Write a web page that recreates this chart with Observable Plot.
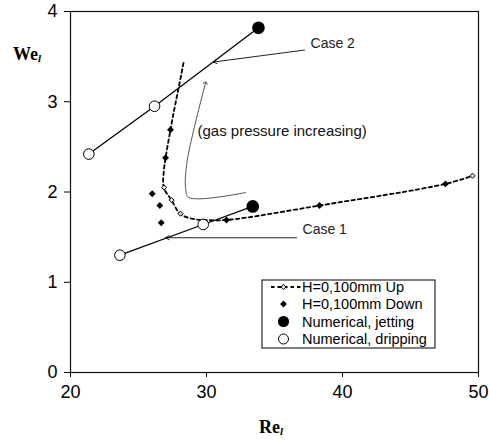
<!DOCTYPE html>
<html>
<head>
<meta charset="utf-8">
<script src="https://cdn.jsdelivr.net/npm/d3@7"></script>
<script src="https://cdn.jsdelivr.net/npm/@observablehq/plot@0.6"></script>
<style>
  html, body { margin: 0; padding: 0; background: #fff; }
  #chart { position: relative; width: 489px; height: 440px; }
</style>
</head>
<body>
<div id="chart"></div>
<script>
// ---- data ----
const reUp = [26.88, 27.43, 28.09, 49.56];
const weUp = [2.05, 1.91, 1.76, 2.18];

const reDown = [27.35, 26.99, 26.01, 26.57, 26.67, 31.47, 38.31, 47.57];
const weDown = [2.69, 2.38, 1.98, 1.85, 1.66, 1.69, 1.85, 2.09];

const reJet = [33.82, 33.40];
const weJet = [3.82, 1.84];

const reDrip = [21.35, 26.18, 23.63, 29.76];
const weDrip = [2.42, 2.95, 1.30, 1.64];

// Up-series trend curve (dashed)
const reTrend = [28.31, 27.96, 27.65, 27.35, 26.99, 26.86, 26.86, 27.43, 28.09, 29.07, 29.80, 31.47, 38.31, 47.57, 49.56];
const weTrend = [3.43, 3.16, 2.93, 2.69, 2.375, 2.23, 2.05, 1.91, 1.755, 1.70, 1.69, 1.69, 1.85, 2.09, 2.18];

// Case lines (dripping -> jetting)
const case2Re = [21.35, 26.18, 33.82];
const case2We = [2.42, 2.95, 3.82];
const case1Re = [23.63, 29.76, 33.40];
const case1We = [1.30, 1.64, 1.84];

// annotations
const caseLabels = ["Case 2", "Case 1"];
const caseLabelRe = [37.65, 37.06];
const caseLabelWe = [3.65, 1.58];
const caseArrowRe1 = [37.21, 36.62];
const caseArrowWe1 = [3.573, 1.493];
const caseArrowRe2 = [30.51, 26.99];
const caseArrowWe2 = [3.44, 1.493];

const gasLabel = "(gas pressure increasing)";
const gasLabelRe = 29.34, gasLabelWe = 2.67;
const gasPathRe = [32.87, 28.70, 28.46, 28.58, 29.93];
const gasPathWe = [1.994, 1.939, 2.05, 2.345, 3.21];

const xTicks = [20, 30, 40, 50];
const yTicks = [0, 1, 2, 3, 4];

const legendLabels = ["H=0,100mm Up", "H=0,100mm Down", "Numerical, jetting", "Numerical, dripping"];

// ---- build tables ----
const zip = (xs, ys) => xs.map((x, i) => ({x, y: ys[i]}));
const up = zip(reUp, weUp);
const down = zip(reDown, weDown);
const jet = zip(reJet, weJet);
const drip = zip(reDrip, weDrip);
const trend = zip(reTrend, weTrend);
const case2 = zip(case2Re, case2We);
const case1 = zip(case1Re, case1We);
const caseArrows = caseLabels.map((t, i) => ({x1: caseArrowRe1[i], y1: caseArrowWe1[i], x2: caseArrowRe2[i], y2: caseArrowWe2[i], t, lx: caseLabelRe[i], ly: caseLabelWe[i]}));
const gasPath = zip(gasPathRe, gasPathWe);

const font = "'Liberation Sans', Arial, sans-serif";

const plot = Plot.plot({
  width: 489,
  height: 440,
  marginLeft: 70,
  marginRight: 11,
  marginTop: 11,
  marginBottom: 68,
  style: {fontFamily: font, fontSize: "18px", background: "#fff", color: "#000"},
  x: {domain: [20, 50], ticks: xTicks},
  y: {domain: [0, 4], ticks: yTicks},
  marks: [
    Plot.frame({stroke: "#111", strokeWidth: 1.2}),
    Plot.axisX({ticks: xTicks, tickSize: 5, tickPadding: 8, label: null, fontSize: 18, tickFormat: d3.format("d")}),
    Plot.axisY({ticks: yTicks, tickSize: 6, tickPadding: 7, label: null, fontSize: 18, tickFormat: d3.format("d")}),
    // gas pressure arrow
    Plot.line(gasPath, {x: "x", y: "y", curve: "catmull-rom", stroke: "#555", strokeWidth: 1, markerEnd: "arrow"}),
    Plot.text([gasLabel], {x: () => gasLabelRe, y: () => gasLabelWe, text: d => d, textAnchor: "start", fontSize: 15, fill: "#111"}),
    // case arrows & labels
    Plot.arrow(caseArrows, {x1: "x1", y1: "y1", x2: "x2", y2: "y2", stroke: "#222", strokeWidth: 1, headLength: 6, bend: 0}),
    Plot.text(caseArrows, {x: "lx", y: "ly", text: "t", textAnchor: "start", fontSize: 14, fill: "#222"}),
    // case lines
    Plot.line(case2, {x: "x", y: "y", stroke: "#000", strokeWidth: 1.3}),
    Plot.line(case1, {x: "x", y: "y", stroke: "#000", strokeWidth: 1.3}),
    // Up trend
    Plot.line(trend, {x: "x", y: "y", curve: "catmull-rom", stroke: "#000", strokeWidth: 1.8, strokeDasharray: "3.5,3"}),
    Plot.dot(up, {x: "x", y: "y", symbol: "diamond2", r: 2.3, fill: "#ddd", stroke: "#000", strokeWidth: 1}),
    Plot.dot(down, {x: "x", y: "y", symbol: "diamond2", r: 3.1, fill: "#000", stroke: "none"}),
    Plot.dot(jet, {x: "x", y: "y", r: 5.6, fill: "#000", stroke: "#000"}),
    Plot.dot(drip, {x: "x", y: "y", r: 5.3, fill: "#fff", stroke: "#000", strokeWidth: 1})
  ]
});

const svg = d3.select(plot);

// axis titles
const yt = svg.append("text").attr("x", 13).attr("y", 60).attr("text-anchor", "start").attr("font-family", "'Liberation Serif', 'Times New Roman', serif").attr("font-weight", "bold").attr("font-size", 18).attr("fill", "#000");
yt.append("tspan").text("We");
yt.append("tspan").attr("font-style", "italic").attr("font-size", 11).attr("dy", 2).text("l");

const xt = svg.append("text").attr("x", 259).attr("y", 433).attr("text-anchor", "start").attr("font-family", "'Liberation Serif', 'Times New Roman', serif").attr("font-weight", "bold").attr("font-size", 18).attr("fill", "#000");
xt.append("tspan").text("Re");
xt.append("tspan").attr("font-style", "italic").attr("font-size", 11).attr("dy", 2).text("l");

// legend
const lg = svg.append("g").attr("font-family", font).attr("font-size", 14.5).attr("text-anchor", "start");
lg.append("rect").attr("x", 262).attr("y", 280).attr("width", 173).attr("height", 68).attr("fill", "#fff").attr("stroke", "#000").attr("stroke-width", 1);
const rowY = [287, 304, 321.5, 339];
const diamond = (cx, cy, h) => `M${cx},${cy - h}L${cx + h},${cy}L${cx},${cy + h}L${cx - h},${cy}Z`;
// row 1: dashed line + open diamond
lg.append("line").attr("x1", 271).attr("x2", 301).attr("y1", rowY[0]).attr("y2", rowY[0]).attr("stroke", "#000").attr("stroke-width", 1.8).attr("stroke-dasharray", "3.5,3");
lg.append("path").attr("d", diamond(283.5, rowY[0], 2.6)).attr("fill", "#ddd").attr("stroke", "#000").attr("stroke-width", 1);
lg.append("path").attr("d", diamond(283.5, rowY[1], 3.4)).attr("fill", "#000");
lg.append("circle").attr("cx", 283.5).attr("cy", rowY[2]).attr("r", 5.6).attr("fill", "#000");
lg.append("circle").attr("cx", 283.5).attr("cy", rowY[3]).attr("r", 5).attr("fill", "#fff").attr("stroke", "#000");
legendLabels.forEach((t, i) => {
  lg.append("text").attr("x", 302).attr("y", rowY[i]).attr("dy", "0.36em").attr("fill", "#000").text(t);
});

document.getElementById("chart").appendChild(plot);
</script>
</body>
</html>
